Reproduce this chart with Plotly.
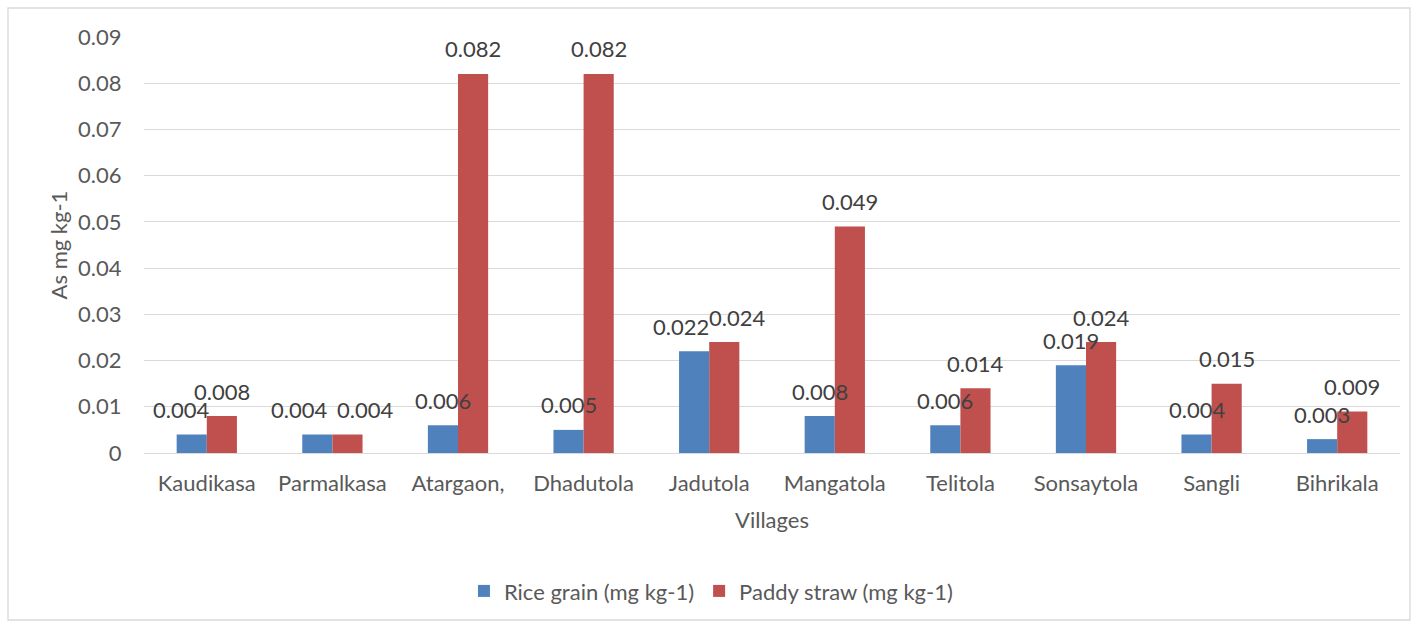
import plotly.graph_objects as go

villages = ["Kaudikasa", "Parmalkasa", "Atargaon,", "Dhadutola", "Jadutola",
            "Mangatola", "Telitola", "Sonsaytola", "Sangli", "Bihrikala"]
rice_grain = [0.004, 0.004, 0.006, 0.005, 0.022, 0.008, 0.006, 0.019, 0.004, 0.003]
paddy_straw = [0.008, 0.004, 0.082, 0.082, 0.024, 0.049, 0.014, 0.024, 0.015, 0.009]
y_ticks = [0, 0.01, 0.02, 0.03, 0.04, 0.05, 0.06, 0.07, 0.08, 0.09]
y_tick_labels = ["0", "0.01", "0.02", "0.03", "0.04", "0.05", "0.06", "0.07", "0.08", "0.09"]

# label nudges (pixels) to avoid overlapping labels, as in the original
rice_nudge = [-11, -18, 0, 0, -13, 0, 0, 0, 0, 0]
straw_nudge = [0, 18, 0, 0, 13, 0, 0, 0, 0, 0]

FONT = "Lato, Carlito, sans-serif"
TXT = "#595959"
FS = 22

fig = go.Figure()
fig.add_trace(go.Bar(
    x=villages, y=rice_grain, name="Rice grain (mg kg-1)",
    marker_color="#4F81BD", marker_line_width=0,
))
fig.add_trace(go.Bar(
    x=villages, y=paddy_straw, name="Paddy straw (mg kg-1)",
    marker_color="#C0504D", marker_line_width=0,
))

W, H = 1416, 624
L, R, T, B = 144, 16, 37, 171
pw, ph = W - L - R, H - T - B

for vals, base_shift, nudges in ((rice_grain, -15, rice_nudge), (paddy_straw, 15, straw_nudge)):
    for v, val, n in zip(villages, vals, nudges):
        fig.add_annotation(x=v, y=val, xref="x", yref="y", text=f"{val:.3f}",
                           showarrow=False, xshift=base_shift + n, yshift=25,
                           yanchor="middle", xanchor="center",
                           font=dict(size=FS, color="#404040", family=FONT))

fig.update_layout(
    width=W, height=H,
    margin=dict(l=L, r=R, t=T, b=B),
    paper_bgcolor="white", plot_bgcolor="white",
    barmode="group", bargap=0.52, bargroupgap=0,
    font=dict(family=FONT, size=FS, color=TXT),
    showlegend=True,
    legend=dict(orientation="h", x=0.4514, xanchor="center", y=-0.332, yanchor="middle",
                font=dict(size=FS, color=TXT), traceorder="normal"),
    xaxis=dict(title=dict(text="Villages", font=dict(size=FS, color=TXT), standoff=17),
               tickfont=dict(size=FS, color=TXT), showgrid=False,
               showline=False, ticks="outside", ticklen=11, tickcolor="white"),
    yaxis=dict(title=dict(text="As mg kg-1", font=dict(size=FS, color=TXT), standoff=4),
               range=[0, 0.09], tickvals=y_ticks, ticktext=y_tick_labels,
               tickfont=dict(size=FS, color=TXT), showgrid=True, gridcolor="#D9D9D9",
               gridwidth=1.3, zeroline=True, zerolinecolor="#D9D9D9", zerolinewidth=1.3,
               showline=False, ticks="outside", ticklen=17, tickcolor="white"),
)

fig.add_shape(type="rect", xref="paper", yref="paper",
              x0=(8 - L) / pw, x1=(1410 - L) / pw,
              y0=(H - B - 620) / ph, y1=(H - B - 8) / ph,
              line=dict(color="#D9D9D9", width=1.3), fillcolor="rgba(0,0,0,0)", layer="below")

fig.write_html("out.html", config={"displayModeBar": False},
               post_script="document.body.style.margin='0';")
